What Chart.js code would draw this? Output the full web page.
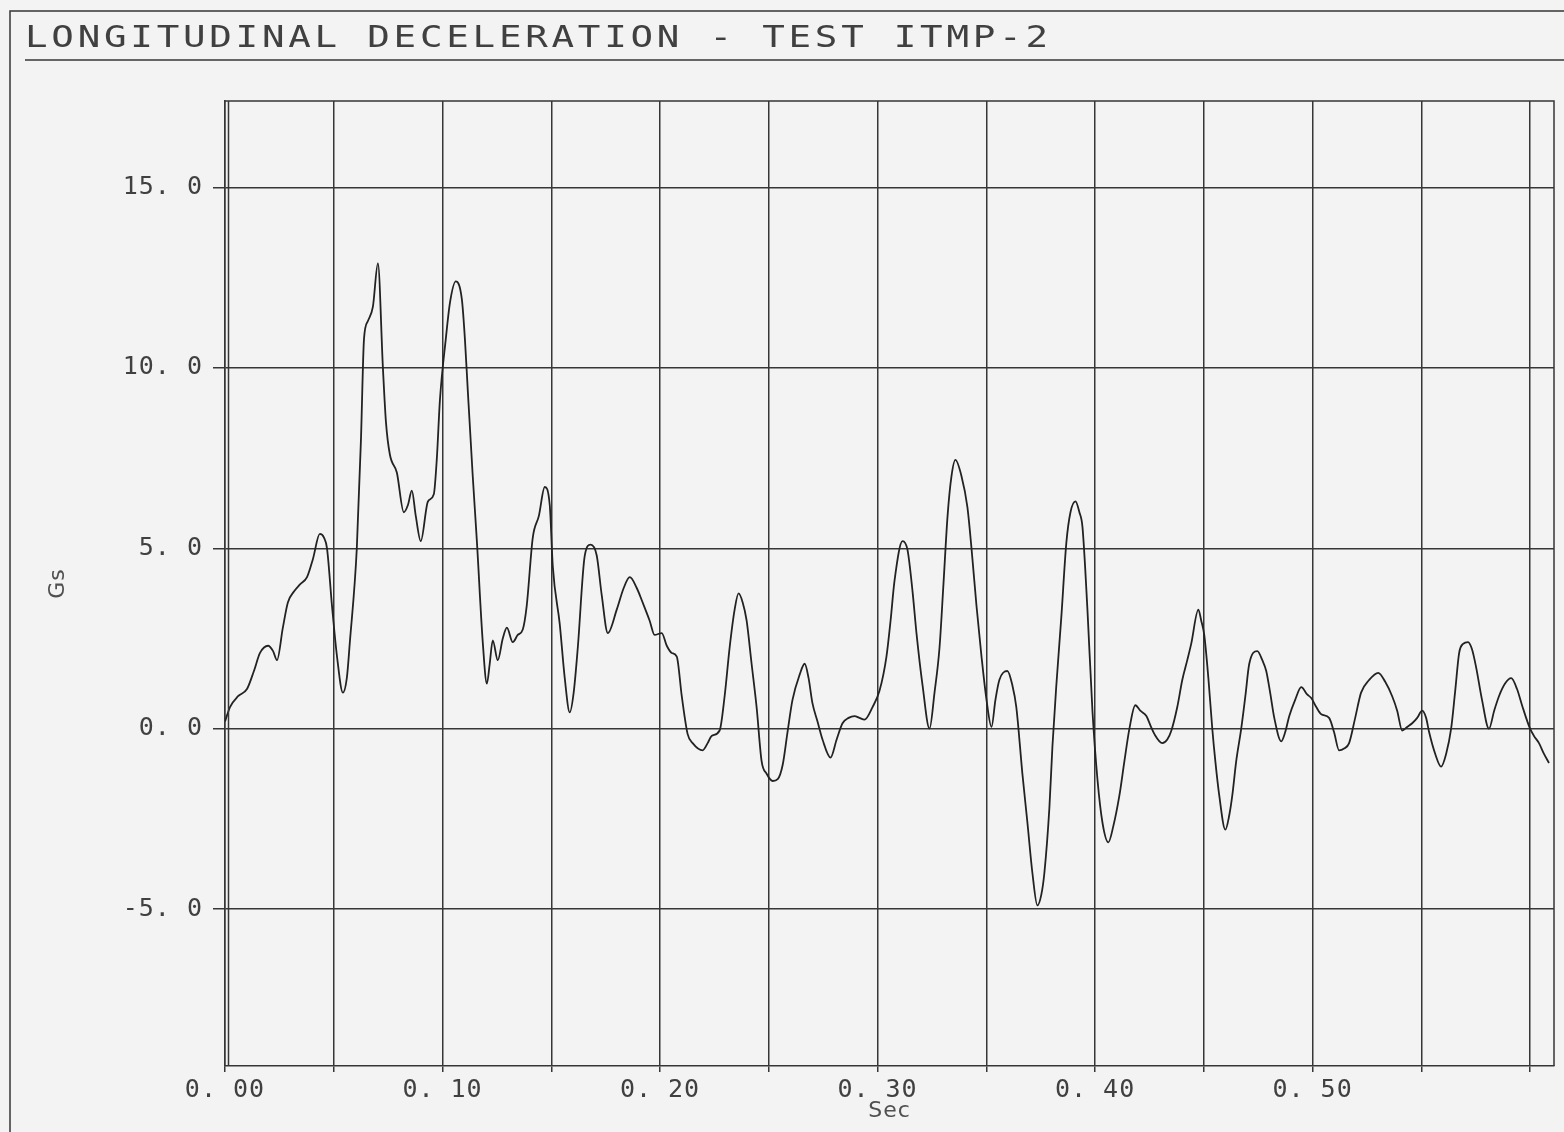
<!DOCTYPE html>
<html>
<head>
<meta charset="utf-8">
<title>Longitudinal Deceleration - Test ITMP-2</title>
<script src="https://cdn.jsdelivr.net/npm/chart.js@4.4.1/dist/chart.umd.min.js"></script>
<style>
  html, body { margin: 0; padding: 0; background: #f3f3f3; }
  #wrap { width: 1564px; height: 1132px; position: relative; }
</style>
</head>
<body>
<div id="wrap"><canvas id="decelChart"></canvas></div>
<script>
const chartTitle = "LONGITUDINAL DECELERATION - TEST ITMP-2";
const xAxisTitle = "Sec";
const yAxisTitle = "Gs";

// time in seconds
const timeSec = [
  0.0000, 0.0023, 0.0060, 0.0101, 0.0133, 0.0161, 0.0198, 0.0221, 0.0239, 0.0266,
  0.0289, 0.0317, 0.0345, 0.0377, 0.0404, 0.0436, 0.0455, 0.0469, 0.0492, 0.0515,
  0.0542, 0.0560, 0.0574, 0.0606, 0.0625, 0.0639, 0.0657, 0.0680, 0.0703, 0.0726,
  0.0740, 0.0758, 0.0790, 0.0822, 0.0841, 0.0859, 0.0877, 0.0900, 0.0933, 0.0960,
  0.0974, 0.0988, 0.1015, 0.1034, 0.1061, 0.1089, 0.1103, 0.1116, 0.1139, 0.1158,
  0.1185, 0.1204, 0.1217, 0.1231, 0.1254, 0.1277, 0.1296, 0.1323, 0.1346, 0.1369,
  0.1387, 0.1415, 0.1443, 0.1470, 0.1493, 0.1507, 0.1539, 0.1562, 0.1585, 0.1603,
  0.1622, 0.1654, 0.1681, 0.1709, 0.1732, 0.1760, 0.1801, 0.1833, 0.1861, 0.1893,
  0.1920, 0.1952, 0.1975, 0.2008, 0.2031, 0.2054, 0.2077, 0.2100, 0.2127, 0.2150,
  0.2196, 0.2219, 0.2237, 0.2274, 0.2297, 0.2320, 0.2343, 0.2361, 0.2380, 0.2398,
  0.2421, 0.2444, 0.2467, 0.2490, 0.2518, 0.2541, 0.2564, 0.2586, 0.2609, 0.2642,
  0.2665, 0.2683, 0.2701, 0.2724, 0.2747, 0.2784, 0.2812, 0.2839, 0.2867, 0.2894,
  0.2917, 0.2940, 0.2977, 0.3009, 0.3041, 0.3060, 0.3078, 0.3115, 0.3138, 0.3161,
  0.3179, 0.3207, 0.3239, 0.3262, 0.3285, 0.3303, 0.3322, 0.3340, 0.3358, 0.3386,
  0.3413, 0.3432, 0.3455, 0.3478, 0.3501, 0.3524, 0.3542, 0.3560, 0.3597, 0.3620,
  0.3638, 0.3666, 0.3689, 0.3712, 0.3735, 0.3753, 0.3767, 0.3790, 0.3804, 0.3822,
  0.3845, 0.3868, 0.3887, 0.3910, 0.3928, 0.3942, 0.3965, 0.3988, 0.4011, 0.4034,
  0.4061, 0.4084, 0.4112, 0.4135, 0.4158, 0.4185, 0.4208, 0.4236, 0.4254, 0.4273,
  0.4309, 0.4332, 0.4351, 0.4378, 0.4401, 0.4424, 0.4442, 0.4475, 0.4488, 0.4502,
  0.4521, 0.4539, 0.4553, 0.4571, 0.4599, 0.4617, 0.4631, 0.4649, 0.4672, 0.4691,
  0.4709, 0.4746, 0.4769, 0.4787, 0.4805, 0.4824, 0.4856, 0.4874, 0.4893, 0.4920,
  0.4948, 0.4975, 0.4994, 0.5017, 0.5040, 0.5076, 0.5099, 0.5122, 0.5145, 0.5168,
  0.5196, 0.5223, 0.5260, 0.5302, 0.5334, 0.5366, 0.5389, 0.5412, 0.5435, 0.5458,
  0.5481, 0.5504, 0.5522, 0.5536, 0.5564, 0.5591, 0.5614, 0.5637, 0.5655, 0.5674,
  0.5692, 0.5715, 0.5733, 0.5752, 0.5779, 0.5811, 0.5835, 0.5857, 0.5885, 0.5913,
  0.5940, 0.5963, 0.6000, 0.6018, 0.6041, 0.6064, 0.6087
];

// deceleration in Gs at each time above
const decelGs = [
  0.2, 0.6, 0.9, 1.1, 1.6, 2.1, 2.3, 2.15, 1.9, 2.8,
  3.5, 3.8, 4.0, 4.2, 4.7, 5.4, 5.3, 5.0, 3.4, 2.0,
  1.0, 1.4, 2.4, 5.0, 8.0, 10.8, 11.3, 11.7, 12.9, 10.0,
  8.5, 7.6, 7.1, 6.0, 6.2, 6.6, 5.9, 5.2, 6.3, 6.5,
  7.5, 9.1, 10.8, 11.8, 12.4, 11.9, 10.8, 9.4, 7.0, 5.2,
  2.4, 1.25, 1.8, 2.45, 1.9, 2.5, 2.8, 2.4, 2.6, 2.75,
  3.4, 5.3, 5.9, 6.7, 6.2, 4.5, 2.9, 1.4, 0.45, 1.0,
  2.25, 4.8, 5.1, 4.8, 3.7, 2.65, 3.3, 3.9, 4.2, 3.9,
  3.5, 3.0, 2.6, 2.65, 2.3, 2.1, 2.0, 0.9, -0.15, -0.4,
  -0.6, -0.4, -0.2, -0.05, 0.9, 2.25, 3.3, 3.75, 3.5, 3.0,
  1.8, 0.6, -0.9, -1.25, -1.45, -1.4, -1.0, -0.1, 0.8, 1.5,
  1.8, 1.4, 0.7, 0.2, -0.3, -0.8, -0.3, 0.15, 0.3, 0.35,
  0.3, 0.25, 0.6, 1.05, 2.0, 3.0, 4.1, 5.2, 4.95, 3.8,
  2.65, 1.2, 0.0, 1.0, 2.25, 4.0, 5.9, 7.0, 7.45, 7.0,
  6.15, 5.0, 3.4, 2.0, 0.8, 0.05, 0.8, 1.35, 1.6, 1.2,
  0.6, -1.25, -2.6, -4.0, -4.9, -4.6, -4.0, -2.2, -0.5, 1.2,
  3.1, 5.15, 6.0, 6.3, 6.0, 5.6, 3.3, 0.5, -1.4, -2.6,
  -3.15, -2.7, -1.85, -0.9, 0.0, 0.65, 0.5, 0.35, 0.1, -0.15,
  -0.4, -0.3, -0.05, 0.6, 1.35, 1.9, 2.35, 3.3, 3.0, 2.6,
  1.4, 0.0, -0.9, -1.85, -2.8, -2.4, -1.85, -0.9, 0.0, 0.9,
  1.8, 2.15, 1.9, 1.6, 1.0, 0.3, -0.35, -0.1, 0.35, 0.8,
  1.15, 0.95, 0.85, 0.6, 0.4, 0.3, -0.1, -0.6, -0.55, -0.4,
  0.3, 1.0, 1.35, 1.55, 1.3, 0.9, 0.5, -0.05, 0.05, 0.15,
  0.3, 0.5, 0.3, -0.1, -0.7, -1.05, -0.7, 0.0, 1.0, 2.1,
  2.35, 2.4, 2.2, 1.7, 0.8, 0.0, 0.5, 0.9, 1.25, 1.4,
  1.1, 0.65, 0.0, -0.2, -0.4, -0.7, -0.95
];

// which x grid lines carry a label (hundredths of a second)
const xLabelledTicks = [0, 10, 20, 30, 40, 50];
const yTickValues = [-5, 0, 5, 10, 15];

const ink = "#363636";
const plotFont = "'DejaVu Sans Mono', 'Liberation Mono', monospace";

function formatPlotter(v, decimals) {
  // the plotter prints a space after the decimal point
  return v.toFixed(decimals).replace(".", ". ");
}

const paperPlugin = {
  id: "paper",
  beforeDraw(chart) {
    chart.ctx.letterSpacing = "1px";
  },
  afterDraw(chart) {
    const ctx = chart.ctx;
    const area = chart.chartArea;
    ctx.save();
    ctx.strokeStyle = ink;
    ctx.lineWidth = 1.5;

    // outer frame of the sheet
    ctx.beginPath();
    ctx.moveTo(10, chart.height);
    ctx.lineTo(10, 11);
    ctx.lineTo(chart.width, 11);
    ctx.stroke();

    // rule under the heading
    ctx.beginPath();
    ctx.moveTo(25, 60);
    ctx.lineTo(chart.width, 60);
    ctx.stroke();

    // plot box (top, right) plus the doubled left edge
    ctx.beginPath();
    ctx.moveTo(area.left, area.top);
    ctx.lineTo(area.right, area.top);
    ctx.lineTo(area.right, area.bottom);
    ctx.moveTo(area.left + 3.5, area.top);
    ctx.lineTo(area.left + 3.5, area.bottom);
    ctx.stroke();

    // heading, glyphs widened like the plotter lettering
    ctx.translate(25, 47);
    ctx.scale(1.25, 1);
    ctx.letterSpacing = "3px";
    ctx.fillStyle = "#404040";
    ctx.font = "30px " + plotFont;
    ctx.textAlign = "left";
    ctx.textBaseline = "alphabetic";
    ctx.fillText(chartTitle, 0, 0);
    ctx.restore();
  }
};

const points = timeSec.map((t, i) => ({ x: t, y: decelGs[i] }));

new Chart(document.getElementById("decelChart"), {
  type: "line",
  data: {
    datasets: [
      {
        label: "Longitudinal deceleration",
        data: points,
        borderColor: "#222222",
        borderWidth: 1.8,
        pointRadius: 0,
        cubicInterpolationMode: "monotone",
        fill: false
      }
    ]
  },
  options: {
    responsive: true,
    maintainAspectRatio: false,
    animation: false,
    layout: {
      padding: { left: 0, top: 101, right: 10, bottom: 0 }
    },
    plugins: {
      legend: { display: false },
      tooltip: { enabled: false },
      title: { display: false }
    },
    scales: {
      x: {
        type: "linear",
        min: 0,
        max: 0.611,
        afterFit: (scale) => { scale.height = 66; },
        border: { display: true, color: ink, width: 1.5 },
        grid: { color: ink, lineWidth: 1.5, drawTicks: true, tickLength: 6, tickColor: ink },
        ticks: {
          stepSize: 0.05,
          includeBounds: false,
          autoSkip: false,
          maxRotation: 0,
          padding: 3,
          color: "#404040",
          font: { family: plotFont, size: 25 },
          callback: (v) => {
            const k = Math.round(v * 100);
            return xLabelledTicks.includes(k) ? formatPlotter(v, 2) : "";
          }
        },
        title: {
          display: true,
          text: xAxisTitle,
          color: "#505050",
          font: { family: "'DejaVu Sans', sans-serif", size: 22 },
          padding: { top: 0, bottom: 8 }
        }
      },
      y: {
        min: -9.35,
        max: 17.4,
        afterFit: (scale) => { scale.width = 225; },
        border: { display: true, color: ink, width: 1.5 },
        grid: { color: ink, lineWidth: 1.5, drawTicks: true, tickLength: 12, tickColor: ink },
        afterBuildTicks: (scale) => {
          scale.ticks = yTickValues.map((v) => ({ value: v }));
        },
        ticks: {
          autoSkip: false,
          padding: 10,
          color: "#404040",
          font: { family: plotFont, size: 25 },
          callback: (v) => formatPlotter(v, 1)
        },
        title: {
          display: true,
          text: yAxisTitle,
          color: "#505050",
          font: { family: "'DejaVu Sans', sans-serif", size: 22 },
          padding: { top: 45, bottom: 0 }
        }
      }
    }
  },
  plugins: [paperPlugin]
});
</script>
</body>
</html>
